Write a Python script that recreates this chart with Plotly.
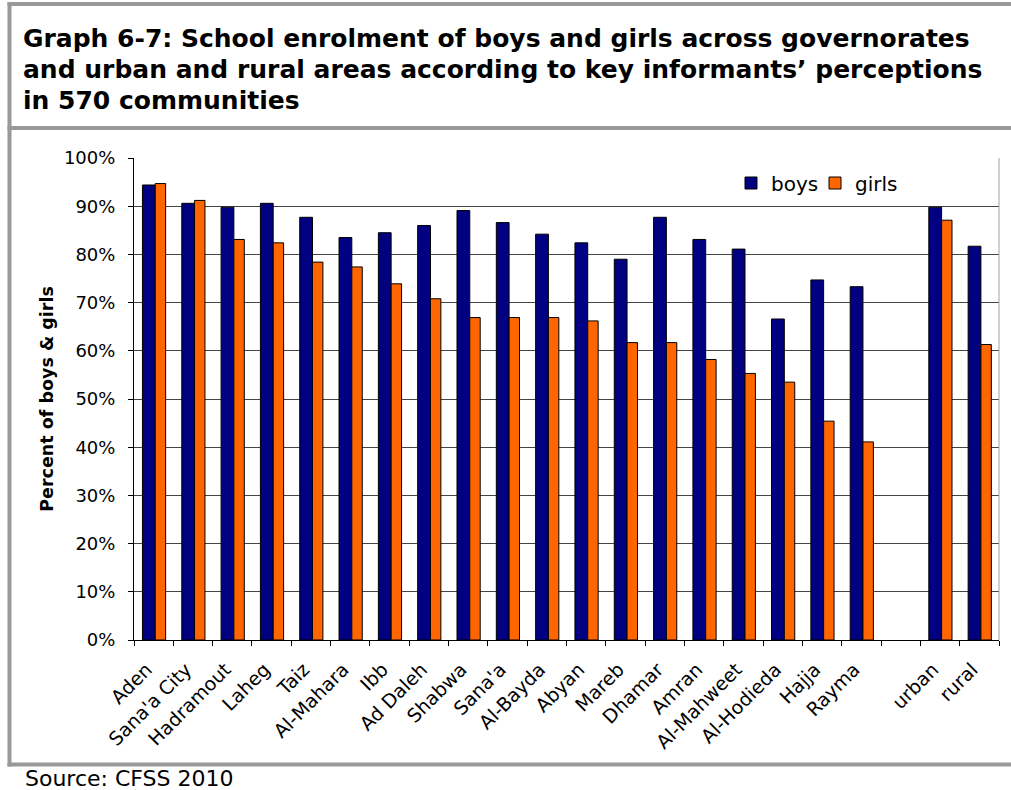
import plotly.graph_objects as go

# ---- data ----
categories = ["Aden", "Sana'a City", "Hadramout", "Laheg", "Taiz", "Al-Mahara", "Ibb",
              "Ad Daleh", "Shabwa", "Sana'a", "Al-Bayda", "Abyan", "Mareb", "Dhamar",
              "Amran", "Al-Mahweet", "Al-Hodieda", "Hajja", "Rayma", " ", "urban", "rural"]
boys = [94.4, 90.6, 89.8, 90.6, 87.7, 83.5, 84.5, 86.0, 89.1, 86.6, 84.2, 82.4, 79.0, 87.7,
        83.1, 81.1, 66.6, 74.7, 73.3, None, 89.8, 81.7]
girls = [94.7, 91.2, 83.1, 82.4, 78.4, 77.4, 73.9, 70.8, 66.9, 66.9, 66.9, 66.2, 61.7, 61.7,
         58.2, 55.3, 53.5, 45.4, 41.1, None, 87.1, 61.3]
y_ticks = [0, 10, 20, 30, 40, 50, 60, 70, 80, 90, 100]
y_tick_labels = ["0%", "10%", "20%", "30%", "40%", "50%", "60%", "70%", "80%", "90%", "100%"]

title_lines = ["Graph 6-7: School enrolment of boys and girls across governorates",
               "and urban and rural areas according to key informants\u2019 perceptions",
               "in 570 communities"]
source_text = "Source: CFSS 2010"
y_title = "Percent of boys & girls"

# ---- layout geometry ----
W, H = 1011, 790
L, R, T, B = 134, 999, 158, 640  # plot area in pixels
FONT = "DejaVu Sans"


def px(x):
    return (x - L) / (R - L)


def py(y):
    return (B - y) / (B - T)


fig = go.Figure()
fig.add_trace(go.Bar(x=categories, y=boys, name="boys", offset=-0.285, width=0.325,
                     legend="legend",
                     marker=dict(color="#000080", line=dict(color="#000000", width=1))))
fig.add_trace(go.Bar(x=categories, y=girls, name="girls", offset=0.04, width=0.265,
                     legend="legend2",
                     marker=dict(color="#FF6600", line=dict(color="#000000", width=1))))

shapes = []
frame = "#999999"
# outer frame pieces
shapes.append(dict(type="line", xref="paper", yref="paper", x0=px(9.5), x1=px(9.5),
                   y0=py(2), y1=py(766.5), line=dict(color=frame, width=4)))
for yy in (4, 128, 764.5):
    shapes.append(dict(type="line", xref="paper", yref="paper", x0=px(7.5), x1=px(1011),
                       y0=py(yy), y1=py(yy), line=dict(color=frame, width=4)))
# plot area right border
shapes.append(dict(type="line", xref="paper", yref="paper", x0=1, x1=1, y0=0, y1=1,
                   line=dict(color="#A0A0A0", width=1)))

annotations = []
for i, line in enumerate(title_lines):
    annotations.append(dict(text="<b>" + line + "</b>", xref="paper", yref="paper",
                            x=px(21), y=py(38 + i * 31), xanchor="left", yanchor="middle",
                            showarrow=False, font=dict(family=FONT, size=25, color="#000000")))
annotations.append(dict(text=source_text, xref="paper", yref="paper", x=px(23), y=py(779),
                        xanchor="left", yanchor="middle", showarrow=False,
                        font=dict(family=FONT, size=22, color="#000000")))

legend_style = dict(orientation="h", yanchor="middle", xanchor="left",
                    font=dict(family=FONT, size=20, color="#000000"),
                    bgcolor="rgba(0,0,0,0)", itemwidth=30)

fig.update_layout(
    width=W, height=H,
    margin=dict(l=L, r=W - R, t=T, b=H - B, pad=0),
    paper_bgcolor="#FFFFFF", plot_bgcolor="#FFFFFF",
    barmode="group",
    font=dict(family=FONT, size=17, color="#000000"),
    showlegend=True,
    legend=dict(x=px(731), y=py(183), **legend_style),
    legend2=dict(x=px(815), y=py(183), **legend_style),
    shapes=shapes,
    annotations=annotations,
)
fig.update_xaxes(type="category", tickson="boundaries", ticks="outside", ticklen=5,
                 tickcolor="#000000", showline=True, linecolor="#000000", linewidth=1,
                 showgrid=False, tickangle=-45, tickfont=dict(family=FONT, size=19),
                 ticklabelstandoff=10, ticklabelshift=-7,
                 range=[-0.5, len(categories) - 0.5], zeroline=False)
fig.update_yaxes(range=[0, 100], tickvals=y_ticks, ticktext=y_tick_labels, ticks="outside",
                 ticklen=5, tickcolor="#000000", showline=True, linecolor="#000000",
                 linewidth=1, showgrid=True, gridcolor="#444444", gridwidth=1, zeroline=False,
                 tickfont=dict(family=FONT, size=18), ticklabelstandoff=9,
                 title=dict(text="<b>" + y_title + "</b>", font=dict(family=FONT, size=17.5),
                            standoff=5))

fig.write_html("out.html")
